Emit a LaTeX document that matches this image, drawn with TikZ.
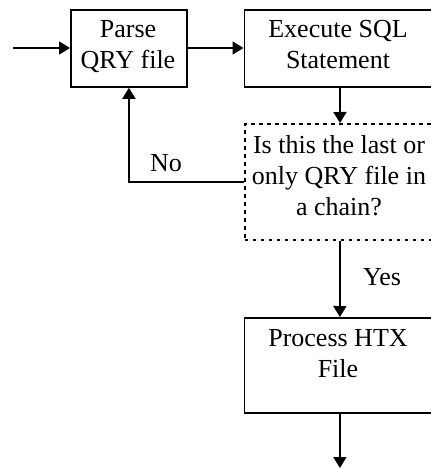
\documentclass[tikz,border=0pt]{standalone}
\usepackage{fontspec}
\setmainfont{Liberation Serif}
\usetikzlibrary{arrows.meta}
\begin{document}
\begin{tikzpicture}[x=1pt,y=-1pt,
  box/.style={draw,line width=1.8pt,rectangle,inner sep=0pt,anchor=north west},
  dbox/.style={draw,line width=2pt,dash pattern=on 3.5pt off 4.5pt,rectangle,inner sep=0pt,anchor=north west},
  txt/.style={inner sep=0pt,align=center,anchor=base,font=\fontsize{26}{31}\selectfont},
  arr/.style={line width=1.8pt,-{Triangle[length=11pt,width=13pt]}}]
\useasboundingbox (0,0) rectangle (431,469);
% boxes
\node[box,minimum width=116pt,minimum height=77pt] (parse) at (70,9) {};
\node[box,minimum width=191pt,minimum height=77pt] (exec) at (243.5,9) {};
\node[dbox,minimum width=191pt,minimum height=116pt] (dec) at (243.5,123) {};
\node[box,minimum width=191pt,minimum height=95pt] (proc) at (243.5,317) {};
% texts (anchor base = baseline of last line)
\node[txt] (parset) at (128,68) {Parse\\QRY file};
\node[txt] (exect) at (338,68) {Execute SQL\\Statement};
\node[txt] (dect) at (339,215) {Is this the last or\\only QRY file in\\a chain?};
\node[txt] (proct) at (338,377) {Process HTX\\File};
\node[txt] (nolab) at (166,171) {No};
\node[txt] (yeslab) at (382,285) {Yes};
% connectors
\coordinate (in) at (13,48);
\coordinate (out) at (339,468);
\draw[arr] (in) -- (in -| parse.west);
\draw[arr] (parse.east |- in) -- (in -| exec.west);
\draw[arr] (exec.south) -- (dec.north);
\draw[arr] (dec.west) -| (parse.south);
\draw[arr] (dec.south) -- (proc.north);
\draw[arr] (proc.south) -- (proc.south |- out);
\end{tikzpicture}
\end{document}
